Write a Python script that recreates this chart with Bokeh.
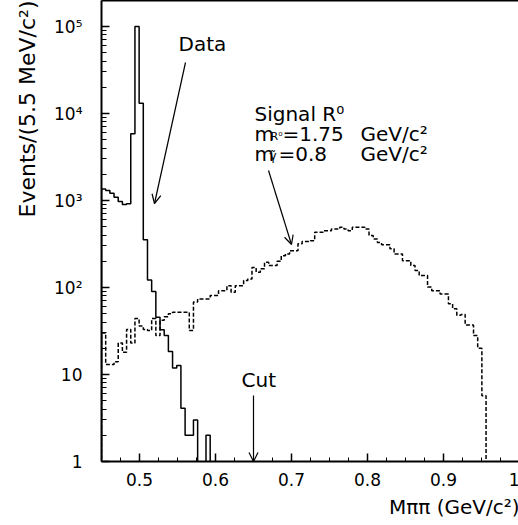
import numpy as np
from bokeh.plotting import figure
from bokeh.models import FixedTicker, LinearAxis, Label, Arrow, OpenHead, Range1d, Title
from bokeh.embed import file_html
from bokeh.resources import INLINE

# ---------------- data ----------------
bin_width = 0.0055          # GeV (5.5 MeV bins)
hist_start = 0.45           # GeV, left edge of first bin

data_counts = [1360, 1300, 1210, 1090, 975, 900, 915, 5850, 100000, 13100,
               353, 122, 90, 45.6, 32.6, 28.1, 18.4, 11.9, 12.7, 4.1,
               2, 2, 3, 0, 0, 2]

signal_counts = [30, 13, 13, 14, 23, 18, 33, 23, 44, 36,
                 33, 32, 44, 28, 42, 46, 50, 52, 52, 52,
                 52, 32, 68, 74, 74, 74, 81, 81, 92, 92,
                 105, 88, 105, 105, 120, 125, 170, 150, 164, 195,
                 179, 179, 200, 232, 243, 265, 265, 318, 337, 337,
                 344, 432, 432, 450, 450, 470, 470, 494, 470, 450,
                 494, 494, 494, 470, 395, 362, 328, 311, 311, 278,
                 243, 243, 203, 203, 179, 157, 137, 137, 101, 92,
                 92, 84, 84, 65, 57, 48, 49, 37, 37, 28,
                 20, 5.7]

x_ticks = [0.5, 0.6, 0.7, 0.8, 0.9, 1.0]
x_tick_labels = ["0.5", "0.6", "0.7", "0.8", "0.9", "1"]
y_ticks = [1, 10, 100, 1000, 10000, 100000]
y_tick_labels = ["1", "10", "10²", "10³", "10⁴", "10⁵"]
cut_value = 0.65

FONT = "DejaVu Sans"
FLOOR = 0.3  # empty bins are drawn down below the axis

# frame geometry (pixels)
FL, FB = 101, 461          # frame left / bottom
PX_PER_X = 760.0           # px per GeV
PX_PER_DEC = 87.0          # px per decade
TXT_DY = 10                # baseline correction for labels


def step_xy(counts):
    n = len(counts)
    edges = hist_start + bin_width * np.arange(n + 1)
    vals = np.array(counts, dtype=float)
    vals = np.where(vals > 0, vals, FLOOR)
    xs = np.repeat(edges, 2)
    ys = np.concatenate([[FLOOR], np.repeat(vals, 2), [FLOOR]])
    return xs, ys


def fx(px):
    return 0.45 + (px - FL) / PX_PER_X


def fy(py):
    return 10 ** ((FB - py) / PX_PER_DEC)


p = figure(width=FL + int(round(0.55 * PX_PER_X)), height=525, y_axis_type="log",
           x_range=Range1d(0.45, 1.0), y_range=Range1d(1, 10 ** (FB / PX_PER_DEC)),
           output_backend="svg", toolbar_location=None,
           min_border_left=FL, min_border_right=0, min_border_top=0, min_border_bottom=525 - FB)
p.outline_line_color = None
p.xgrid.visible = False
p.ygrid.visible = False
p.background_fill_color = "white"
p.border_fill_color = "white"

# histograms
sx, sy = step_xy(signal_counts)
p.line(sx, sy, line_color="black", line_width=1.5, line_dash="4 2")
dx, dy = step_xy(data_counts)
p.line(dx, dy, line_color="black", line_width=1.5)

# axes
xminor = [0.45 + 0.025 * i for i in range(23)]
p.xaxis.ticker = FixedTicker(ticks=x_ticks, minor_ticks=xminor)
p.xaxis.major_label_overrides = dict(zip(x_ticks, x_tick_labels))
p.xaxis.major_tick_in = 8
p.xaxis.major_tick_out = 0
p.xaxis.minor_tick_in = 4
p.xaxis.minor_tick_out = 0
p.xaxis.axis_line_width = 2
p.xaxis.major_tick_line_width = 1.5
p.xaxis.major_label_text_font = FONT
p.xaxis.major_label_text_font_size = "17px"
p.xaxis.major_label_text_color = "black"
p.xaxis.major_label_standoff = 11

yminor = [m * 10 ** d for d in range(0, 6) for m in range(2, 10)]
p.yaxis.ticker = FixedTicker(ticks=y_ticks, minor_ticks=yminor)
p.yaxis.major_label_overrides = dict(zip(y_ticks, y_tick_labels))
p.yaxis.major_tick_in = 8
p.yaxis.major_tick_out = 0
p.yaxis.minor_tick_in = 5
p.yaxis.minor_tick_out = 0
p.yaxis.axis_line_width = 2
p.yaxis.major_tick_line_width = 1.5
p.yaxis.major_label_text_font = FONT
p.yaxis.major_label_text_font_size = "17px"
p.yaxis.major_label_text_color = "black"
p.yaxis.major_label_standoff = 19

top_axis = LinearAxis(ticker=FixedTicker(ticks=[]), major_tick_in=0, major_tick_out=0,
                      minor_tick_in=0, minor_tick_out=0, major_label_text_font_size="0px",
                      axis_line_width=2)
p.add_layout(top_axis, "above")

# axis titles
p.add_layout(Title(text="Events/(5.5 MeV/c²)", align="right",
                   text_font=FONT, text_font_size="22px", text_font_style="normal",
                   text_color="black", standoff=23), "left")
p.add_layout(Title(text="Mππ (GeV/c²)", align="right", text_font=FONT,
                   text_font_size="20px", text_font_style="normal", text_color="black",
                   standoff=8), "below")


def add_text(text, px, py, size, align="left", baseline="alphabetic"):
    p.add_layout(Label(x=fx(px), y=fy(py - TXT_DY), text=text, text_font=FONT,
                       text_font_size=size, text_align=align, text_baseline=baseline,
                       text_color="black"))


# annotations
add_text("Data", 178, 53, "20px")
add_text("Cut", 241, 389, "20px")
add_text("Signal R⁰", 254, 123, "20px")
add_text("m", 254, 143, "20px")
add_text("R⁰", 270, 146, "11px")
add_text("=1.75", 282, 143, "20px")
add_text("GeV/c²", 360, 143, "20px")
add_text("m", 254, 163, "20px")
add_text("γ̃", 269, 165, "12px")
add_text("=0.8", 278, 163, "20px")
add_text("GeV/c²", 360, 163, "20px")


def add_arrow(x0, y0, x1, y1):
    p.add_layout(Arrow(end=OpenHead(size=9, line_width=1.2, line_color="black"),
                       x_start=fx(x0), y_start=fy(y0), x_end=fx(x1), y_end=fy(y1),
                       line_width=1.2, line_color="black"))


add_arrow(185, 62, 154, 203)
add_arrow(268, 170, 291, 244)
p.add_layout(Arrow(end=OpenHead(size=9, line_width=1.2, line_color="black"),
                   x_start=cut_value, y_start=fy(395), x_end=cut_value, y_end=1,
                   line_width=1.2, line_color="black"))

open("out.html", "w").write(file_html(p, INLINE))
